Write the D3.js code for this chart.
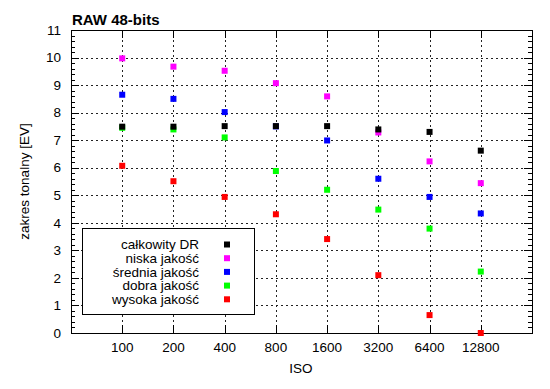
<!DOCTYPE html>
<html>
<head>
<meta charset="utf-8">
<script src="https://cdn.jsdelivr.net/npm/d3@7"></script>
<style>
  body { margin: 0; background: #fff; }
  svg { display: block; font-family: "Liberation Sans", Arial, sans-serif; }
</style>
</head>
<body>
<div id="chart"></div>
<script>
// ISO steps on the x axis
const isoValues = [100, 200, 400, 800, 1600, 3200, 6400, 12800];
const yTicks = [0, 1, 2, 3, 4, 5, 6, 7, 8, 9, 10, 11];

const seriesNames = ["całkowity DR", "niska jakość", "średnia jakość", "dobra jakość", "wysoka jakość"];
const seriesColors = ["#000000", "#ff00ff", "#0000ff", "#00ff00", "#ff0000"];

// values [EV]
const calkowity = [7.49, 7.49, 7.51, 7.51, 7.51, 7.39, 7.30, 6.62];
const niska     = [9.97, 9.67, 9.52, 9.07, 8.59, 7.28, 6.23, 5.44];
const srednia   = [8.65, 8.50, 8.02, 7.50, 6.99, 5.60, 4.94, 4.34];
const dobra     = [7.45, 7.39, 7.10, 5.88, 5.20, 4.48, 3.79, 2.23];
const wysoka    = [6.07, 5.51, 4.94, 4.31, 3.41, 2.10, 0.65, 0.00];

const seriesValues = [calkowity, niska, srednia, dobra, wysoka];

const width = 550, height = 389;
const pLeft = 71, pRight = 532, pTop = 30, pBottom = 333;
const fs = "13.5px";

const x = d3.scaleLog().base(2).domain([50, 25600]).range([pLeft, pRight]);
const y = d3.scaleLinear().domain([0, 11]).range([pBottom, pTop]);

const svg = d3.select("#chart").append("svg")
  .attr("width", width)
  .attr("height", height);

// grid lines
svg.append("g")
  .selectAll("line")
  .data(yTicks.slice(1, -1))
  .enter().append("line")
  .attr("x1", pLeft).attr("x2", pRight)
  .attr("y1", d => Math.round(y(d)) + 0.5).attr("y2", d => Math.round(y(d)) + 0.5)
  .attr("stroke", "#222").attr("stroke-width", 1)
  .attr("stroke-dasharray", "2,3");

svg.append("g")
  .selectAll("line")
  .data(isoValues)
  .enter().append("line")
  .attr("x1", d => Math.round(x(d)) + 0.5).attr("x2", d => Math.round(x(d)) + 0.5)
  .attr("y1", pTop).attr("y2", pBottom)
  .attr("stroke", "#222").attr("stroke-width", 1)
  .attr("stroke-dasharray", "2,3");

// y ticks, left and mirrored right (major + minor)
const minor = d3.range(0, 11.001, 0.2).map(v => Math.round(v * 10) / 10);
const tickG = svg.append("g").attr("stroke", "#000").attr("stroke-width", 1);
minor.forEach(v => {
  const major = Number.isInteger(v);
  const len = major ? 8 : 4;
  const yy = Math.round(y(v)) + 0.5;
  tickG.append("line").attr("x1", pLeft).attr("x2", pLeft + len).attr("y1", yy).attr("y2", yy);
  tickG.append("line").attr("x1", pRight - len).attr("x2", pRight).attr("y1", yy).attr("y2", yy);
});
isoValues.forEach(v => {
  const xx = Math.round(x(v)) + 0.5;
  tickG.append("line").attr("x1", xx).attr("x2", xx).attr("y1", pBottom).attr("y2", pBottom - 8);
  tickG.append("line").attr("x1", xx).attr("x2", xx).attr("y1", pTop).attr("y2", pTop + 8);
});

// border
svg.append("rect")
  .attr("x", pLeft + 0.5).attr("y", pTop + 0.5)
  .attr("width", pRight - pLeft).attr("height", pBottom - pTop)
  .attr("fill", "none").attr("stroke", "#000").attr("stroke-width", 1);

// tick labels
svg.append("g")
  .selectAll("text")
  .data(yTicks)
  .enter().append("text")
  .attr("x", 61)
  .attr("y", d => y(d))
  .attr("dy", "0.35em")
  .attr("text-anchor", "end")
  .style("font-size", fs)
  .text(d => d);

svg.append("g")
  .selectAll("text")
  .data(isoValues)
  .enter().append("text")
  .attr("x", d => x(d))
  .attr("y", 347)
  .attr("dy", "0.35em")
  .attr("text-anchor", "middle")
  .style("font-size", fs)
  .text(d => d);

// axis titles
svg.append("text")
  .attr("x", 301).attr("y", 368).attr("dy", "0.35em")
  .attr("text-anchor", "middle")
  .style("font-size", fs)
  .text("ISO");

svg.append("text")
  .attr("transform", "translate(24," + (pTop + pBottom) / 2 + ") rotate(-90)")
  .attr("dy", "0.35em")
  .attr("text-anchor", "middle")
  .style("font-size", fs)
  .text("zakres tonalny [EV]");

svg.append("text")
  .attr("x", 72).attr("y", 25)
  .style("font-size", "15px")
  .style("font-weight", "bold")
  .text("RAW 48-bits");

// points - black drawn last so it sits on top
const sq = 6;
for (let s = seriesValues.length - 1; s >= 0; s--) {
  svg.append("g")
    .selectAll("rect")
    .data(seriesValues[s])
    .enter().append("rect")
    .attr("x", (d, i) => x(isoValues[i]) - sq / 2)
    .attr("y", d => y(d) - sq / 2)
    .attr("width", sq).attr("height", sq)
    .attr("fill", seriesColors[s]);
}

// legend
const legend = svg.append("g");
legend.append("rect")
  .attr("x", 82.5).attr("y", 228.5)
  .attr("width", 172).attr("height", 86)
  .attr("fill", "#fff").attr("stroke", "#000").attr("stroke-width", 1);

seriesNames.forEach((name, i) => {
  const yy = 244.5 + i * 13.7;
  legend.append("text")
    .attr("x", 199).attr("y", yy).attr("dy", "0.35em")
    .attr("text-anchor", "end")
    .style("font-size", fs)
    .text(name);
  legend.append("rect")
    .attr("x", 227 - sq / 2).attr("y", yy - sq / 2)
    .attr("width", sq).attr("height", sq)
    .attr("fill", seriesColors[i]);
});
</script>
</body>
</html>
